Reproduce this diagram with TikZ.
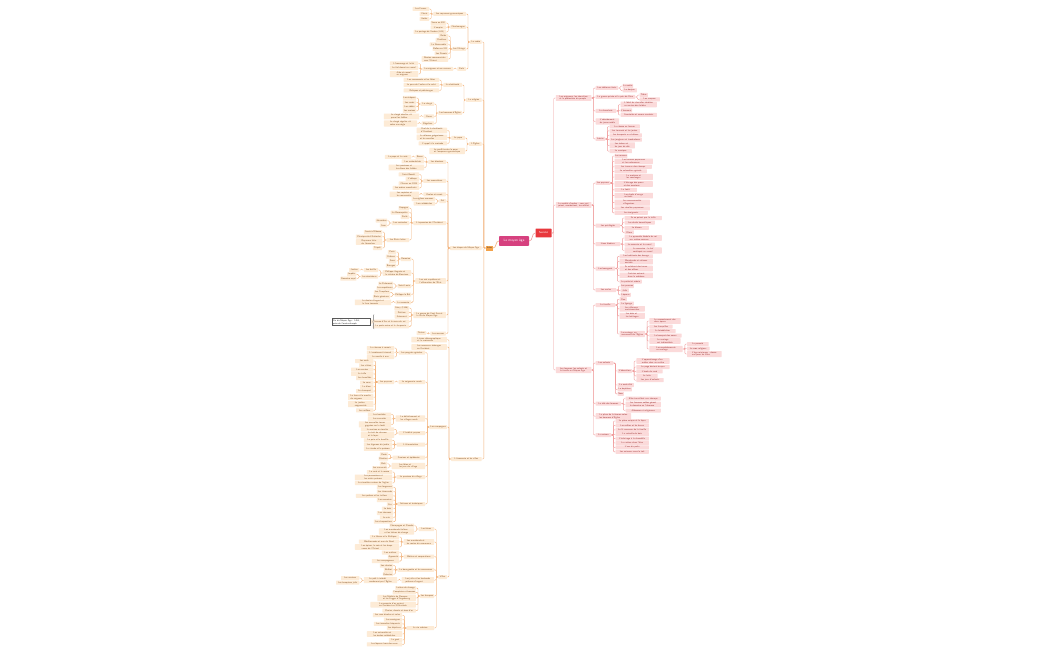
\documentclass[tikz,border=0pt]{standalone}
\usetikzlibrary{decorations.pathreplacing}
\definecolor{lfill}{HTML}{FDEBD6}
\definecolor{ltext}{HTML}{8A5A2E}
\definecolor{lcol}{HTML}{F2B179}
\definecolor{rfill}{HTML}{FBDADA}
\definecolor{rtext}{HTML}{A03A3A}
\definecolor{rcol}{HTML}{F09A9A}
\definecolor{ctrc}{HTML}{D6417F}
\definecolor{socc}{HTML}{E8383D}
\definecolor{introc}{HTML}{F3A24A}
% child on the left: parent, name, y, width, text
\newcommand{\lk}[5]{\node[lbox,minimum width={#4pt+1.4pt},anchor=east,xshift=-4pt] (#2) at (#1.west |- 0,#3) {#5};
  \draw[lline] (#1.west) -- ++(-2pt,0) |- (#2.east);}
% child on the right
\newcommand{\rk}[5]{\node[rbox,minimum width={#4pt+1.4pt},anchor=west,xshift=4pt] (#2) at (#1.east |- 0,#3) {#5};
  \draw[rline] (#1.east) -- ++(2pt,0) |- (#2.west);}
\begin{document}
\begin{tikzpicture}[x=1pt, y=-1pt]
    % Mind map of the Middle Ages
    \tikzset{mapfont/.style={font=\sffamily\fontsize{2.3}{2.75}\selectfont},
      lbox/.style={mapfont, fill=lfill, text=ltext, inner xsep=0.7pt, inner ysep=0.6pt, minimum height=4pt, align=left, rounded corners=0.5pt},
      rbox/.style={mapfont, fill=rfill, text=rtext, inner xsep=0.7pt, inner ysep=0.6pt, minimum height=4pt, align=left, rounded corners=0.5pt},
      lline/.style={draw=lcol, line width=0.4pt, rounded corners=1pt},
      rline/.style={draw=rcol, line width=0.4pt, rounded corners=1pt},
      ctrbox/.style={fill=ctrc, text=white, font=\sffamily\fontsize{3.4}{4}\selectfont, minimum width=30pt, minimum height=8pt, rounded corners=0.8pt},
      socbox/.style={fill=socc, text=white, font=\sffamily\fontsize{2.8}{3.2}\selectfont, minimum width=16pt, minimum height=6pt, rounded corners=0.6pt},
      introbox/.style={mapfont, fill=introc, text=black!80, minimum width=7pt, minimum height=5pt, inner sep=0.5pt},
      notebox/.style={mapfont, draw=black!65, line width=0.4pt, fill=white, text=black!80, align=left, inner sep=0.8pt},
      brc/.style={draw=black!55, line width=0.35pt, decorate, decoration={brace, amplitude=1.3pt}}}
    \fill[white] (0,0) rectangle (1050,650);
    \useasboundingbox (0,0) rectangle (1050,650);
    \node[ctrbox] (ctr) at (514,241) {Le moyen âge};
    \node[socbox] (soc) at (543.5,233) {Société};
    \node[introbox] (intro) at (489.5,248) {Intro};
    \draw[lline, line width=0.6pt] (intro.east) to[out=0, in=180] (ctr.west);
    \draw[rline, line width=0.6pt] (ctr.east) to[out=0, in=180] (soc.west);
    % left: le cadre
    \lk{intro}{A}{42}{10}{Le cadre}
    \lk{A}{a1}{14}{31}{Les royaumes germaniques}
    \lk{a1}{a11}{9}{15}{Les Francs} \lk{a1}{a12}{14}{8}{Clovis} \lk{a1}{a13}{19}{8}{Goths}
    \lk{A}{a2}{27}{14}{Charlemagne}
    \lk{a2}{a21}{23}{14}{Sacre en 800} \lk{a2}{a22}{27.5}{14}{L'empire} \lk{a2}{a23}{32}{31}{Le partage de Verdun (843)}
    \lk{A}{a3}{49}{12}{Les Vikings}
    \lk{a3}{a31}{36}{8}{Raids} \lk{a3}{a32}{40}{11}{Drakkars} \lk{a3}{a33}{44.5}{17}{La Normandie}
    \lk{a3}{a34}{49}{14}{Rollon en 911} \lk{a3}{a35}{53.5}{12}{Les Danois} \lk{a3}{a36}{59}{25}{Routes commerciales\\vers l'Orient}
    \lk{A}{a4}{69}{7}{Fiefs}
    \lk{a4}{a41}{69}{29}{Le seigneur et ses vassaux}
    \lk{a41}{a411}{63.5}{27}{L'hommage et la foi} \lk{a41}{a412}{68}{27}{Le fief donné au vassal} \lk{a41}{a413}{74}{27}{Aide et conseil\\au seigneur}
    % left: la religion
    \lk{intro}{B}{100}{14}{La religion}
    \lk{B}{b1}{85}{17}{La chrétienté}
    \lk{b1}{b11}{80}{34}{Les sacrements et les fêtes} \lk{b1}{b12}{85}{34}{La peur de l'enfer et le salut} \lk{b1}{b13}{90.5}{34}{Reliques et pèlerinages}
    \lk{B}{b2}{113}{22}{Les hommes d'Église}
    \lk{b2}{b21}{104}{12}{Le clergé}
    \lk{b21}{b211}{98}{12}{Les évêques} \lk{b21}{b212}{102.3}{12}{Les curés} \lk{b21}{b213}{106.6}{12}{Les abbés} \lk{b21}{b214}{110.9}{12}{Les moines}
    \lk{b2}{b22}{116.5}{9}{Clercs}
    \lk{b22}{b221}{116.5}{34}{Le clergé séculier vit\\parmi les fidèles}
    \lk{b2}{b23}{123.5}{11}{Réguliers}
    \lk{b23}{b231}{123.5}{32}{Le clergé régulier vit\\selon une règle}
    % left: l'Eglise
    \lk{intro}{C}{144}{11}{L'Église}
    \lk{C}{c1}{138}{12}{Le pape}
    \lk{c1}{c11}{130.5}{29}{Chef de la chrétienté\\d'Occident} \lk{c1}{c12}{137.3}{29}{La réforme grégorienne\\et les conciles} \lk{c1}{c13}{143.5}{27}{L'appel à la croisade}
    \lk{C}{c2}{151}{34}{Le conflit entre le pape\\et l'empereur germanique}
    % left: les etapes
    \lk{intro}{D}{248}{30}{Les étapes du Moyen Âge}
    \lk{D}{d1}{162}{16}{Les diocèses}
    \lk{d1}{d11}{157}{7}{Rome} \lk{d11}{d111}{157}{25}{Le pape et la curie}
    \lk{d1}{d12}{161.5}{21}{Les archevêchés} \lk{d1}{d13}{167.5}{34}{Les paroisses et\\les dîmes des fidèles}
    \lk{D}{d2}{181}{21}{Les monastères}
    \lk{d2}{d21}{174.5}{19}{Saint Benoît} \lk{d2}{d22}{179}{12}{L'abbaye} \lk{d2}{d23}{183.5}{19}{Cîteaux en 1098} \lk{d2}{d24}{188}{25}{Les ordres mendiants}
    \lk{D}{d3}{194.3}{21}{Écoles et savoir}
    \lk{d3}{d31}{194.3}{28}{Les copistes et\\les manuscrits}
    \lk{D}{d4}{201}{5}{Art}
    \lk{d4}{d41}{199}{22}{Les églises romanes} \lk{d4}{d42}{203.5}{20}{Les cathédrales}
    \lk{D}{d5}{223}{31}{L'expansion de l'Occident}
    \lk{d5}{d51}{208}{9}{Espagne} \lk{d5}{d52}{212.5}{17}{La Reconquista} \lk{d5}{d53}{217}{7}{Sicile}
    \lk{d5}{d54}{223}{16}{Les croisades}
    \lk{d54}{d541}{220.7}{10}{Jérusalem} \lk{d54}{d542}{225.3}{6}{Acre}
    \lk{d5}{d55}{240}{21}{Les États latins}
    \lk{d55}{d551}{232}{17}{Comté d'Édesse} \lk{d55}{d552}{236.5}{25}{Principauté d'Antioche}
    \lk{d55}{d553}{242}{25}{Royaume latin\\de Jérusalem} \lk{d55}{d554}{248}{8}{Tripoli}
    \lk{D}{d6}{281}{29}{Les rois capétiens et\\l'affirmation de l'État}
    \lk{d6}{d61}{259}{9}{Domaine}
    \lk{d61}{d611}{252}{7}{Paris} \lk{d61}{d612}{256.5}{9}{Orléans} \lk{d61}{d613}{261}{6}{Sens} \lk{d61}{d614}{265.5}{9}{Bourges}
    \lk{d6}{d62}{273}{27}{Philippe Auguste et\\la victoire de Bouvines}
    \lk{d62}{d621}{270}{13}{Les baillis} \lk{d621}{d6211}{270}{9}{Justice}
    \lk{d62}{d622}{276.5}{16}{Les sénéchaux} \lk{d622}{d6221}{274.3}{8}{Impôts} \lk{d622}{d6222}{278.7}{13}{Domaine royal}
    \lk{d6}{d63}{286}{12}{Saint Louis}
    \lk{d63}{d631}{283.7}{13}{Le Parlement} \lk{d63}{d632}{288.2}{15}{Les enquêteurs}
    \lk{d6}{d64}{294.5}{15}{Philippe le Bel}
    \lk{d64}{d641}{292.3}{15}{Les Templiers} \lk{d64}{d642}{296.7}{16}{États généraux}
    \lk{d6}{d65}{302.3}{14}{La monnaie}
    \lk{d65}{d651}{302.3}{35}{Le denier d'argent et\\la livre tournois}
    \lk{D}{d7}{315}{31}{La guerre de Cent Ans et\\la fin du Moyen Âge}
    \lk{d7}{d71}{308}{13}{Crécy (1346)} \lk{d7}{d72}{312.3}{13}{Poitiers} \lk{d7}{d73}{316.6}{13}{Azincourt}
    \lk{d7}{d74}{321.5}{37}{Jeanne d'Arc et le sacre du roi} \lk{d7}{d75}{326.3}{35}{La peste noire et la Jacquerie}
    \node[notebox, text width=36pt] (note) at (351,322) {Fin du Moyen Âge : 1453,\\prise de Constantinople};
    \coordinate (brb) at (374,329); \coordinate (brt) at (374,314.5);
    \draw[brc] (brb) -- (brt);
    \lk{D}{d8}{333.5}{14}{Les sources} \lk{d8}{d81}{333}{8}{Textes}
    % left: economie et villes
    \lk{intro}{E}{459}{29}{L'économie et les villes}
    \lk{E}{e01}{339.7}{34}{L'essor démographique\\et la croissance} \lk{E}{e02}{347}{34}{Les nouveaux échanges\\en Occident}
    \lk{E}{e1}{427}{16}{Les campagnes}
    \lk{e1}{e11}{352.5}{25}{Les progrès agricoles}
    \lk{e11}{e111}{348}{26}{La charrue à versoir} \lk{e11}{e112}{352.5}{26}{L'assolement triennal} \lk{e11}{e113}{357}{26}{Le moulin à eau}
    \lk{e1}{e12}{382}{25}{La seigneurie rurale}
    \lk{e12}{e121}{382}{15}{Les paysans}
    \lk{e121}{e1211}{361}{17}{Les serfs} \lk{e121}{e1212}{365.3}{13}{Les vilains} \lk{e121}{e1213}{369.6}{21}{Les corvées}
    \lk{e121}{e1214}{373.9}{21}{La taille} \lk{e121}{e1215}{378.2}{16}{Les banalités} \lk{e121}{e1216}{382.5}{12}{Le cens}
    \lk{e121}{e1217}{386.8}{12}{La dîme} \lk{e121}{e1218}{391.1}{16}{Le champart} \lk{e121}{e1219}{397.2}{24}{Le four et le moulin\\du seigneur}
    \lk{e121}{e1220}{404.2}{24}{La justice\\seigneuriale} \lk{e121}{e1221}{410.3}{16}{Les veillées}
    \lk{e1}{e13}{418.5}{28}{Le défrichement et\\les villages neufs}
    \lk{e13}{e131}{414.6}{22}{Les bastides} \lk{e13}{e132}{419}{22}{Les sauvetés} \lk{e13}{e133}{424.4}{31}{Les nouvelles terres\\gagnées sur la forêt}
    \lk{e1}{e14}{433}{25}{L'habitat paysan}
    \lk{e14}{e141}{429.3}{32}{La maison en torchis} \lk{e14}{e142}{434.8}{32}{Le toit de chaume\\et le foyer}
    \lk{e1}{e15}{444.5}{27}{L'alimentation}
    \lk{e15}{e151}{440.3}{27}{Le pain et la bouillie} \lk{e15}{e152}{444.6}{27}{Les légumes du jardin} \lk{e15}{e153}{448.9}{27}{La viande et le poisson}
    \lk{e1}{e16}{457.5}{31}{Famines et épidémies}
    \lk{e16}{e161}{454.3}{7}{Peste} \lk{e16}{e162}{458.6}{8}{Disettes}
    \lk{e1}{e17}{466}{32}{Les fêtes et\\les jeux du village}
    \lk{e17}{e171}{463.7}{6}{Bals} \lk{e17}{e172}{468}{13}{Les carnavals}
    \lk{e1}{e18}{477}{27}{La paroisse du village}
    \lk{e18}{e181}{472}{24}{Le curé et la messe} \lk{e18}{e182}{477.5}{36}{Les processions et\\les saints patrons} \lk{e18}{e183}{483}{36}{Le cimetière autour de l'église}
    \lk{e1}{e19}{504}{26}{Artisans et techniques}
    \lk{e19}{e191}{487.2}{15}{Les forgerons} \lk{e19}{e192}{491.5}{15}{Les tisserands} \lk{e19}{e193}{495.8}{36}{Les potiers et les tuiliers}
    \lk{e19}{e194}{500.1}{15}{Les meuniers} \lk{e19}{e195}{504.4}{5}{Fer} \lk{e19}{e196}{508.7}{10}{Le bois}
    \lk{e19}{e197}{513}{15}{Les charrons} \lk{e19}{e198}{517.3}{12}{Le cuir} \lk{e19}{e199}{521.6}{18}{Les charpentiers}
    \lk{E}{e2}{577}{7}{Villes}
    \lk{e2}{e21}{529}{14}{Les foires}
    \lk{e21}{e211}{525.7}{22}{Champagne et Flandre} \lk{e21}{e212}{531.5}{34}{Les marchands italiens\\et les lettres de change}
    \lk{e2}{e22}{542}{29}{Les marchands et\\les routes du commerce}
    \lk{e22}{e221}{537}{28}{La Hanse et la Baltique} \lk{e22}{e222}{541.5}{39}{Méditerranée et mer du Nord} \lk{e22}{e223}{547}{43}{Les épices, la soie et les draps\\venus de l'Orient}
    \lk{e2}{e23}{556.5}{29}{Métiers et corporations}
    \lk{e23}{e231}{552.5}{16}{Les maîtres} \lk{e23}{e232}{556.8}{10}{Apprentis} \lk{e23}{e233}{561.1}{26}{Les compagnons}
    \lk{e2}{e24}{569.8}{35}{La bourgeoisie et les communes}
    \lk{e24}{e241}{565.6}{12}{Les chartes} \lk{e24}{e242}{569.9}{8}{Beffroi} \lk{e24}{e243}{574.2}{9}{Échevins}
    \lk{e2}{e25}{580.2}{31}{Les juifs et les lombards\\prêteurs d'argent}
    \lk{e25}{e251}{580.2}{32}{Le prêt à intérêt\\condamné par l'Église}
    \lk{e251}{e2511}{578}{17}{Les usuriers} \lk{e251}{e2512}{582.5}{22}{Les banquiers juifs}
    \lk{e2}{e26}{596}{12}{Les banques}
    \lk{e26}{e261}{588}{19}{Lettres de change} \lk{e26}{e262}{592.4}{21}{Comptoirs et bourses}
    \lk{e26}{e263}{598}{37}{Les Médicis de Florence\\et les Fugger d'Augsbourg} \lk{e26}{e264}{604.7}{44}{La monnaie d'or revient\\en Occident au XIIIe siècle}
    \lk{e26}{e265}{610.6}{32}{Florins, ducats et écus d'or}
    \lk{e2}{e27}{628}{26}{La vie urbaine}
    \lk{e27}{e271}{615.2}{28}{Les rues étroites et sales} \lk{e27}{e272}{619.5}{17}{Les enseignes} \lk{e27}{e273}{623.8}{27}{Les incendies fréquents}
    \lk{e27}{e274}{628.1}{14}{Les hôpitaux} \lk{e27}{e275}{634}{34}{Les universités et\\les écoles cathédrales}
    \lk{e27}{e276}{640}{12}{Le guet} \lk{e27}{e277}{644.4}{34}{Les lépreux hors des murs}
    % right: seigneurs
    \rk{soc}{R1}{98}{34}{Les seigneurs, les chevaliers\\et la protection du peuple}
    \rk{R1}{r11}{88}{21}{Les châteaux forts}
    \rk{r11}{r111}{86}{9}{La motte} \rk{r11}{r112}{90.4}{13}{Le donjon}
    \rk{R1}{r12}{97}{38}{La guerre privée et la paix de Dieu}
    \rk{r12}{r121}{95}{7}{Trêve} \rk{r12}{r122}{99.4}{19}{Les rançons}
    \rk{R1}{r13}{111}{19}{La chevalerie}
    \rk{r13}{r131}{104.5}{35}{L'idéal du chevalier chrétien\\au service des faibles} \rk{r13}{r132}{110.5}{10}{L'honneur}
    \rk{r13}{r133}{115}{35}{Courtoisie et amour courtois}
    \rk{R1}{r14}{121.5}{22}{L'adoubement\\du jeune noble}
    \rk{R1}{r15}{139}{8}{Loisirs}
    \rk{r15}{r151}{126.5}{29}{La chasse au faucon} \rk{r15}{r152}{130.9}{29}{Les tournois et les joutes} \rk{r15}{r153}{135.3}{31}{Les banquets au château}
    \rk{r15}{r154}{139.7}{31}{Les jongleurs et troubadours} \rk{r15}{r155}{145.4}{24}{Les échecs et\\les jeux de dés} \rk{r15}{r156}{151.2}{21}{La musique}
    % right: societe d'ordres
    \rk{soc}{R2}{205}{34}{La société d'ordres : ceux qui\\prient, combattent, travaillent}
    \rk{R2}{r21}{183}{13}{Les paysans}
    \rk{r21}{r211}{156}{11}{Les manses} \rk{r21}{r212}{161.3}{37}{Les tenures paysannes\\et les redevances}
    \rk{r21}{r213}{166.8}{36}{Les travaux des champs} \rk{r21}{r214}{171.3}{31}{Le calendrier agricole}
    \rk{r21}{r215}{177}{37}{La moisson et\\les vendanges} \rk{r21}{r216}{184}{37}{L'élevage des porcs\\et des moutons}
    \rk{r21}{r217}{189.9}{21}{La forêt} \rk{r21}{r218}{195.6}{37}{Les droits d'usage\\en forêt}
    \rk{r21}{r219}{202.6}{34}{Les communautés\\villageoises} \rk{r21}{r2110}{208.4}{34}{Les révoltes paysannes}
    \rk{r21}{r2111}{212.8}{32}{Les émigrants}
    \rk{R2}{r22}{225.5}{23}{Les privilégiés}
    \rk{r22}{r221}{218}{36}{Ils ne paient pas la taille} \rk{r22}{r222}{222.5}{29}{Les droits honorifiques}
    \rk{r22}{r223}{227.8}{23}{Le blason} \rk{r22}{r224}{232.3}{8}{Dîme}
    \rk{R2}{r23}{244}{23}{Liens féodaux}
    \rk{r23}{r231}{238}{36}{La pyramide féodale du roi\\aux arrière-vassaux} \rk{r23}{r232}{244.5}{29}{Le suzerain et le vassal}
    \rk{r23}{r233}{250.5}{36}{La commise : le fief\\confisqué au vassal}
    \rk{R2}{r24}{268.5}{18}{Les bourgeois}
    \rk{r24}{r241}{256.3}{32}{Les habitants des bourgs} \rk{r24}{r242}{261.6}{32}{Marchands et artisans\\enrichis}
    \rk{r24}{r243}{268.5}{32}{Ils achètent des terres\\et des offices} \rk{r24}{r244}{275.4}{32}{Certains entrent\\dans la noblesse}
    \rk{r24}{r245}{281.5}{21}{Le patriciat urbain}
    \rk{R2}{r25}{290}{19}{Les exclus}
    \rk{r25}{r251}{286}{12}{Les pauvres} \rk{r25}{r252}{290.4}{7}{Juifs} \rk{r25}{r253}{294.8}{9}{Lépreux}
    % right: famille
    \rk{soc}{R3}{370}{34}{Les femmes, les enfants et\\la famille au Moyen Âge}
    \rk{R3}{r31}{305}{18}{La famille}
    \rk{r31}{r311}{299.2}{6}{Clan} \rk{r31}{r312}{303.5}{13}{Le lignage}
    \rk{r31}{r313}{308.8}{24}{Les alliances\\matrimoniales} \rk{r31}{r314}{315.8}{24}{Les dots et\\les héritages}
    \rk{r31}{r315}{334}{24}{Le mariage, un\\sacrement de l'Église}
    \rk{r315}{r3151}{321}{30}{Le consentement des\\deux époux} \rk{r315}{r3152}{326.5}{22}{Les fiançailles}
    \rk{r315}{r3153}{331}{25}{La bénédiction} \rk{r315}{r3154}{335.5}{31}{Le banquet des noces}
    \rk{r315}{r3155}{341}{30}{Le mariage\\est indissoluble} \rk{r315}{r3156}{349}{32}{Les empêchements\\au mariage}
    \rk{r3156}{r31561}{344}{20}{La parenté} \rk{r3156}{r31562}{348.5}{21}{Le vœu religieux}
    \rk{r3156}{r31563}{354}{33}{L'âge minimum : douze\\ans pour les filles}
    \rk{R3}{r32}{363}{16}{Les enfants}
    \rk{r32}{r321}{371}{13}{L'éducation}
    \rk{r321}{r3211}{361}{32}{L'apprentissage d'un\\métier chez un maître} \rk{r321}{r3212}{367}{32}{Le page devient écuyer}
    \rk{r321}{r3213}{371.4}{25}{L'école du curé} \rk{r321}{r3214}{375.8}{20}{Le latin} \rk{r321}{r3215}{380.2}{26}{Les jeux d'enfants}
    \rk{r32}{r322}{385}{15}{La mortalité} \rk{r32}{r323}{389.4}{13}{Le baptême} \rk{r32}{r324}{393.8}{5}{Nom}
    \rk{R3}{r33}{403.5}{24}{Le rôle des femmes}
    \rk{r33}{r331}{398.5}{34}{Elles travaillent aux champs} \rk{r33}{r332}{404.5}{34}{Les femmes nobles gèrent\\le domaine en l'absence}
    \rk{r33}{r333}{410.5}{34}{Abbesses et religieuses}
    \rk{R3}{r34}{416.2}{34}{La place de la femme selon\\les hommes d'Église}
    \rk{R3}{r35}{435}{14}{La maison}
    \rk{r35}{r351}{421}{32}{La pièce unique et le foyer} \rk{r35}{r352}{425.4}{32}{Les coffres et les bancs}
    \rk{r35}{r353}{429.8}{32}{Le lit commun de la famille} \rk{r35}{r354}{434.2}{32}{La vaisselle de bois}
    \rk{r35}{r355}{438.6}{32}{L'éclairage à la chandelle} \rk{r35}{r356}{443}{32}{La cuisine dans l'âtre}
    \rk{r35}{r357}{447.4}{32}{L'eau du puits} \rk{r35}{r358}{451.8}{32}{Les animaux sous le toit}
\end{tikzpicture}
\end{document}
